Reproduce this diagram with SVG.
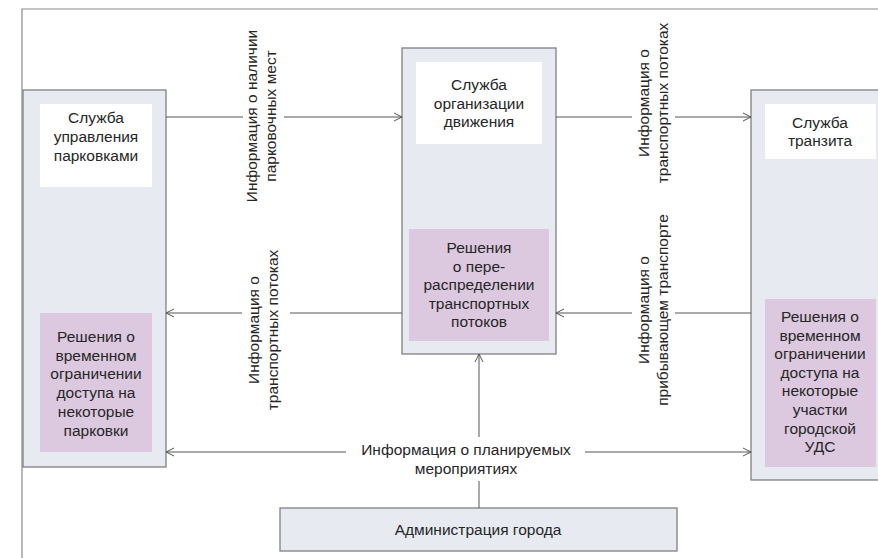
<svg xmlns="http://www.w3.org/2000/svg" width="878" height="558" viewBox="0 0 878 558">
<defs>
<style>
.frame{fill:none;stroke:#8a8a8a;stroke-width:1.2}
.box{fill:#e8eaf2;stroke:#808080;stroke-width:1.3}
.white{fill:#ffffff}
.purple{fill:#dcc8df}
.t{font-family:"Liberation Sans",Arial,sans-serif;font-size:15.5px;fill:#262626;text-anchor:middle}
.c{fill:none;stroke:#555555;stroke-width:1}
</style>
<marker id="ah" markerWidth="10" markerHeight="10" refX="9" refY="5" orient="auto" markerUnits="userSpaceOnUse">
<path d="M1,1 L9,5 L1,9" fill="none" stroke="#555555" stroke-width="1"/>
</marker>
</defs>
<rect width="878" height="558" fill="#ffffff"/>
<path class="frame" d="M22,558 V9 H878"/>

<g id="parking">
<rect class="box" x="23" y="90" width="143" height="377"/>
<rect class="white" x="40" y="104" width="112" height="83"/>
<text class="t" x="96" y="123">Служба</text>
<text class="t" x="96" y="142">управления</text>
<text class="t" x="96" y="161">парковками</text>
<rect class="purple" x="40" y="313" width="112" height="139"/>
<text class="t" x="96" y="342">Решения о</text>
<text class="t" x="96" y="360.7">временном</text>
<text class="t" x="96" y="379.4">ограничении</text>
<text class="t" x="96" y="398.1">доступа на</text>
<text class="t" x="96" y="416.8">некоторые</text>
<text class="t" x="96" y="435.5">парковки</text>
</g>

<g id="traffic">
<rect class="box" x="402" y="48" width="154" height="306"/>
<rect class="white" x="416" y="62" width="126" height="82"/>
<text class="t" x="479" y="90">Служба</text>
<text class="t" x="479" y="109">организации</text>
<text class="t" x="479" y="127">движения</text>
<rect class="purple" x="409" y="229" width="140" height="112"/>
<text class="t" x="479" y="253">Решения</text>
<text class="t" x="479" y="272">о пере-</text>
<text class="t" x="479" y="290">распределении</text>
<text class="t" x="479" y="309">транспортных</text>
<text class="t" x="479" y="327">потоков</text>
</g>

<g id="transit">
<rect class="box" x="751" y="90" width="140" height="390"/>
<rect class="white" x="765" y="104" width="111" height="55"/>
<text class="t" x="820" y="128">Служба</text>
<text class="t" x="820" y="146">транзита</text>
<rect class="purple" x="765" y="299" width="111" height="168"/>
<text class="t" x="820" y="322">Решения о</text>
<text class="t" x="820" y="340.6">временном</text>
<text class="t" x="820" y="359.2">ограничении</text>
<text class="t" x="820" y="377.8">доступа на</text>
<text class="t" x="820" y="396.4">некоторые</text>
<text class="t" x="820" y="415">участки</text>
<text class="t" x="820" y="433.6">городской</text>
<text class="t" x="820" y="452.2">УДС</text>
</g>

<g id="admin">
<rect class="box" x="280" y="508" width="397" height="43"/>
<text class="t" x="478" y="535">Администрация города</text>
</g>

<g id="connectors">
<path class="c" d="M166,117 H243"/>
<path class="c" d="M284,117 H402" marker-end="url(#ah)"/>
<path class="c" d="M556,117 H632"/>
<path class="c" d="M675,117 H751" marker-end="url(#ah)"/>
<path class="c" d="M402,313 H290"/>
<path class="c" d="M242,313 H166" marker-end="url(#ah)"/>
<path class="c" d="M751,313 H675"/>
<path class="c" d="M632,313 H556" marker-end="url(#ah)"/>
<path class="c" d="M346,452 H166" marker-end="url(#ah)"/>
<path class="c" d="M585,452 H751" marker-end="url(#ah)"/>
<path class="c" d="M479,508 V481"/>
<path class="c" d="M479,437 V354" marker-end="url(#ah)"/>
</g>

<g id="labels">
<text class="t" transform="translate(256.5,116) rotate(-90)">Информация о наличии</text>
<text class="t" transform="translate(276,116) rotate(-90)">парковочных мест</text>
<text class="t" transform="translate(648.5,103) rotate(-90)">Информация о</text>
<text class="t" transform="translate(668,103) rotate(-90)">транспортных потоках</text>
<text class="t" transform="translate(259,330) rotate(-90)">Информация о</text>
<text class="t" transform="translate(278,330) rotate(-90)">транспортных потоках</text>
<text class="t" transform="translate(648.5,310) rotate(-90)">Информация о</text>
<text class="t" transform="translate(668,310) rotate(-90)">прибывающем транспорте</text>
<text class="t" x="466" y="455">Информация о планируемых</text>
<text class="t" x="466" y="474">мероприятиях</text>
</g>
</svg>
